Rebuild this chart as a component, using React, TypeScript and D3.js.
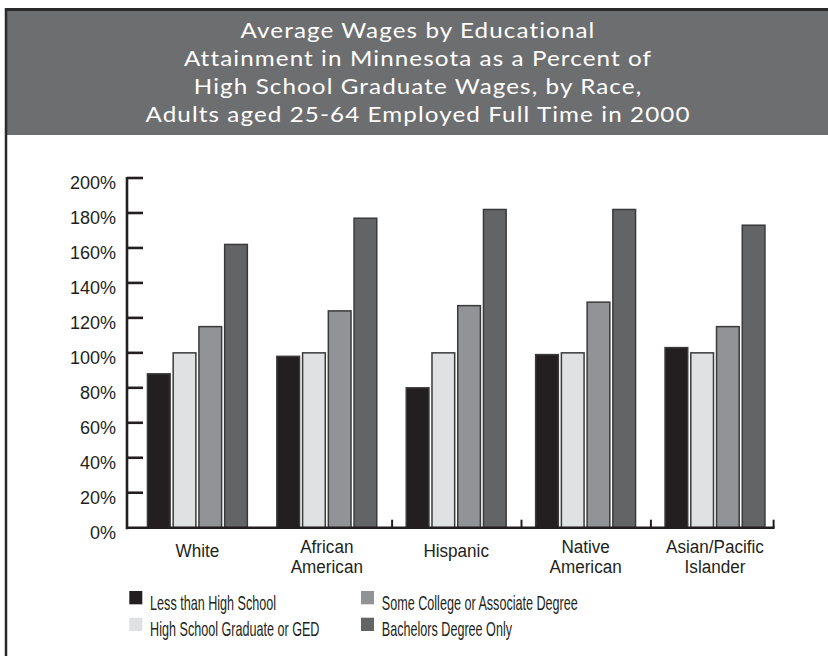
import React from "react";
import * as d3 from "d3";

const titleLines = [
  "Average Wages by Educational",
  "Attainment in Minnesota as a Percent of",
  "High School Graduate Wages, by Race,",
  "Adults aged 25-64 Employed Full Time in 2000",
];

const categories = ["White", "African American", "Hispanic", "Native American", "Asian/Pacific Islander"];
const categoryLabels = [["White"], ["African", "American"], ["Hispanic"], ["Native", "American"], ["Asian/Pacific", "Islander"]];

const seriesNames = [
  "Less than High School",
  "High School Graduate or GED",
  "Some College or Associate Degree",
  "Bachelors Degree Only",
];

const lessThanHS = [88, 98, 80, 99, 103];
const hsGraduate = [100, 100, 100, 100, 100];
const someCollege = [115, 124, 127, 129, 115];
const bachelors = [162, 177, 182, 182, 173];

const yTicks = [0, 20, 40, 60, 80, 100, 120, 140, 160, 180, 200];

const seriesValues = [lessThanHS, hsGraduate, someCollege, bachelors];
const colors = ["#231f20", "#e0e1e3", "#929396", "#636466"];

const W = 828;
const H = 656;

export default function App() {
  const y = d3.scaleLinear().domain([0, 200]).range([527.7, 178]);
  const x0 = d3.scaleBand<string>().domain(categories).range([133.3, 780.3]).padding(0);
  const x1 = d3
    .scaleBand<string>()
    .domain(seriesNames)
    .range([13.4, 114.8])
    .paddingInner(0.06)
    .paddingOuter(0);

  const axisX = 127;
  const axisEnd = x0(categories[categories.length - 1])! + x0.step() * 0.956;
  const tickFont = "'Liberation Sans', Arial, sans-serif";

  const legendItems = [
    { i: 0, x: 129.3, y: 591 },
    { i: 1, x: 129.3, y: 617.7 },
    { i: 2, x: 361, y: 591 },
    { i: 3, x: 361, y: 617.7 },
  ];

  return (
    <div style={{ position: "absolute", left: 0, top: 0 }}>
      <svg width={W} height={H} style={{ display: "block", background: "#fff" }}>
        {/* frame + title box */}
        <rect x={5} y={9.5} width={W - 5} height={125.5} fill="#6d6e70" />
        <line x1={5} x2={W} y1={9.5} y2={9.5} stroke="#2b2a2b" strokeWidth={3} />
        <line x1={6} x2={6} y1={8} y2={H} stroke="#2b2a2b" strokeWidth={2.5} />
        {titleLines.map((t, i) => (
          <text
            key={i}
            transform={`translate(418,${37.5 + i * 28}) scale(1.1,1)`}
            textAnchor="middle"
            fill="#ffffff"
            fontFamily="Lato, 'Open Sans', sans-serif"
            fontSize={22}
            letterSpacing={1}
          >
            {t}
          </text>
        ))}

        {/* bars */}
        {categories.map((c, ci) => (
          <g key={c} transform={`translate(${x0(c)},0)`}>
            {seriesNames.map((s, si) => {
              const v = seriesValues[si][ci];
              return (
                <rect
                  key={s}
                  x={x1(s)! + 0.75}
                  y={y(v)}
                  width={x1.bandwidth() - 1.5}
                  height={y(0) - y(v)}
                  fill={colors[si]}
                  stroke="#3a3a3b"
                  strokeWidth={1.5}
                />
              );
            })}
          </g>
        ))}

        {/* y axis */}
        <line x1={axisX} x2={axisX} y1={y(200) - 1} y2={y(0) + 1.5} stroke="#231f20" strokeWidth={2.6} />
        {yTicks.map((t) => (
          <g key={t}>
            {t > 0 && (
              <line x1={axisX} x2={axisX + 16} y1={y(t)} y2={y(t)} stroke="#231f20" strokeWidth={2.6} />
            )}
            <text
              x={116}
              y={y(t) + 11}
              textAnchor="end"
              fontFamily={tickFont}
              fontSize={18}
              fill="#231f20"
            >
              {t + "%"}
            </text>
          </g>
        ))}

        {/* x axis */}
        <line x1={axisX - 1} x2={axisEnd} y1={y(0)} y2={y(0)} stroke="#231f20" strokeWidth={2.6} />
        {categories.slice(2).map((c) => (
          <line key={c} x1={x0(c)!} x2={x0(c)!} y1={y(0)} y2={y(0) - 8} stroke="#231f20" strokeWidth={2} />
        ))}
        <line x1={axisEnd - 1} x2={axisEnd - 1} y1={y(0)} y2={y(0) - 8} stroke="#231f20" strokeWidth={2} />

        {/* category labels */}
        {categories.map((c, ci) => {
          const lines = categoryLabels[ci];
          const cx = x0(c)! + (x1.range()[0] + x1.range()[1]) / 2;
          const base = lines.length > 1 ? 553 : 556.5;
          return lines.map((l, li) => (
            <text
              key={c + li}
              transform={`translate(${cx},${base + li * 19.5}) scale(0.9,1)`}
              textAnchor="middle"
              fontFamily={tickFont}
              fontSize={19}
              fill="#231f20"
            >
              {l}
            </text>
          ));
        })}

        {/* legend */}
        {legendItems.map((it) => (
          <g key={it.i}>
            <rect x={it.x} y={it.y} width={13} height={13.3} fill={colors[it.i]} />
            <text
              transform={`translate(${it.x + 20.8},${it.y + 18.5}) scale(0.63,1)`}
              fontFamily={tickFont}
              fontSize={20}
              fill="#231f20"
            >
              {seriesNames[it.i]}
            </text>
          </g>
        ))}
      </svg>
    </div>
  );
}
